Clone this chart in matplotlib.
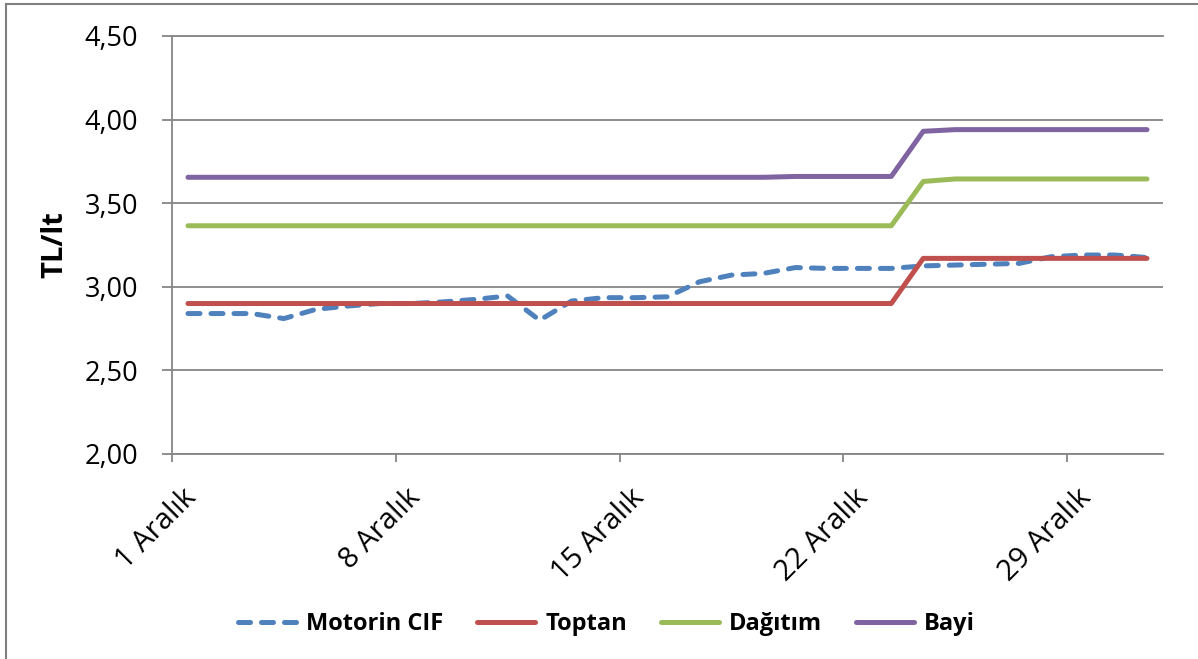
import matplotlib
matplotlib.use("Agg")
import matplotlib.pyplot as plt
from matplotlib.lines import Line2D
from matplotlib.transforms import ScaledTranslation
import numpy as np

# ---- data ----
days = list(range(1, 32))
categories = [f"{d} Aralık" for d in days]
tick_days = [1, 8, 15, 22, 29]
tick_labels = ["1 Aralık", "8 Aralık", "15 Aralık", "22 Aralık", "29 Aralık"]

motorin_cif = [2.84, 2.84, 2.84, 2.81, 2.865, 2.885, 2.90, 2.90, 2.91, 2.925,
               2.945, 2.80, 2.915, 2.935, 2.935, 2.94, 3.03, 3.07, 3.08, 3.115,
               3.11, 3.11, 3.11, 3.125, 3.13, 3.135, 3.14, 3.18, 3.19, 3.19, 3.175]
toptan = [2.90] * 23 + [3.17] * 8
dagitim = [3.365] * 23 + [3.63] + [3.645] * 7
bayi = [3.655] * 19 + [3.66] * 4 + [3.93] + [3.94] * 7

y_ticks = [2.0, 2.5, 3.0, 3.5, 4.0, 4.5]
y_tick_labels = ["2,00", "2,50", "3,00", "3,50", "4,00", "4,50"]

series_names = ["Motorin CIF", "Toptan", "Dağıtım", "Bayi"]
colors = ["#4F81BD", "#C0504D", "#9BBB59", "#8064A2"]

# ---- figure ----
W, H = 1198, 659
fig = plt.figure(figsize=(W / 100, H / 100), dpi=100)
fig.patch.set_facecolor("white")
ax = fig.add_axes([172 / W, 1 - 454 / H, (1163 - 172) / W, (454 - 36) / H])

grid_col = "#868686"
font = ["Open Sans", "DejaVu Sans"]

x = np.array(days)
lw = 3.6
l1, = ax.plot(x, motorin_cif, color=colors[0], lw=lw, label=series_names[0],
              linestyle=(0, (2.4, 2.2)), dash_capstyle="round", solid_joinstyle="round")
l2, = ax.plot(x, toptan, color=colors[1], lw=lw, label=series_names[1],
              solid_capstyle="round", solid_joinstyle="round")
l3, = ax.plot(x, dagitim, color=colors[2], lw=lw, label=series_names[2],
              solid_capstyle="round", solid_joinstyle="round")
l4, = ax.plot(x, bayi, color=colors[3], lw=lw, label=series_names[3],
              solid_capstyle="round", solid_joinstyle="round")

ax.set_xlim(0.5, 31.5)
ax.set_ylim(2.0, 4.5)

ax.set_yticks(y_ticks)
ax.set_yticklabels(y_tick_labels, family=font, fontsize=19.5, color="black")
ax.yaxis.grid(True, color=grid_col, lw=1.3)
ax.set_axisbelow(True)
ax.tick_params(axis="y", direction="out", length=7.5, width=1.3, color=grid_col, pad=17)

ax.set_xticks(tick_days)
ax.set_xticklabels(tick_labels, family=font, fontsize=21, rotation=45,
                   ha="right", va="top", rotation_mode="anchor")
ax.tick_params(axis="x", which="major", length=0, pad=21)
ax.set_xticks([0.5, 7.5, 14.5, 21.5, 28.5], minor=True)
ax.tick_params(axis="x", which="minor", direction="out", length=6, width=1.3, color=grid_col)
offset = ScaledTranslation(-6 / 100, 0, fig.dpi_scale_trans)
for lab in ax.get_xticklabels():
    lab.set_transform(lab.get_transform() + offset)

for s in ["top", "right"]:
    ax.spines[s].set_visible(False)
for s in ["left", "bottom"]:
    ax.spines[s].set_color(grid_col)
    ax.spines[s].set_linewidth(1.3)
ax.axhline(4.5, color=grid_col, lw=1.3, clip_on=False)

fig.text(55 / W, 1 - 245 / H, "TL/lt", rotation=90, ha="center", va="center",
         family=font, fontweight="bold", fontsize=21)

fig.legend(handles=[l1, l2, l3, l4], labels=series_names, loc="center",
           bbox_to_anchor=(606.5 / W, 1 - 624 / H), ncol=4, frameon=False,
           prop={"family": font, "weight": "bold", "size": 17},
           handlelength=2.45, handletextpad=0.42, columnspacing=1.45, borderpad=0)

# outer chart-area border (only top and left visible in the crop)
fig.add_artist(Line2D([6 / W, 6 / W], [0, 1 - 4 / H], color="#808080", lw=1.5))
fig.add_artist(Line2D([6 / W, 1], [1 - 4 / H, 1 - 4 / H], color="#808080", lw=1.5))

fig.savefig("out.png", dpi=100)
